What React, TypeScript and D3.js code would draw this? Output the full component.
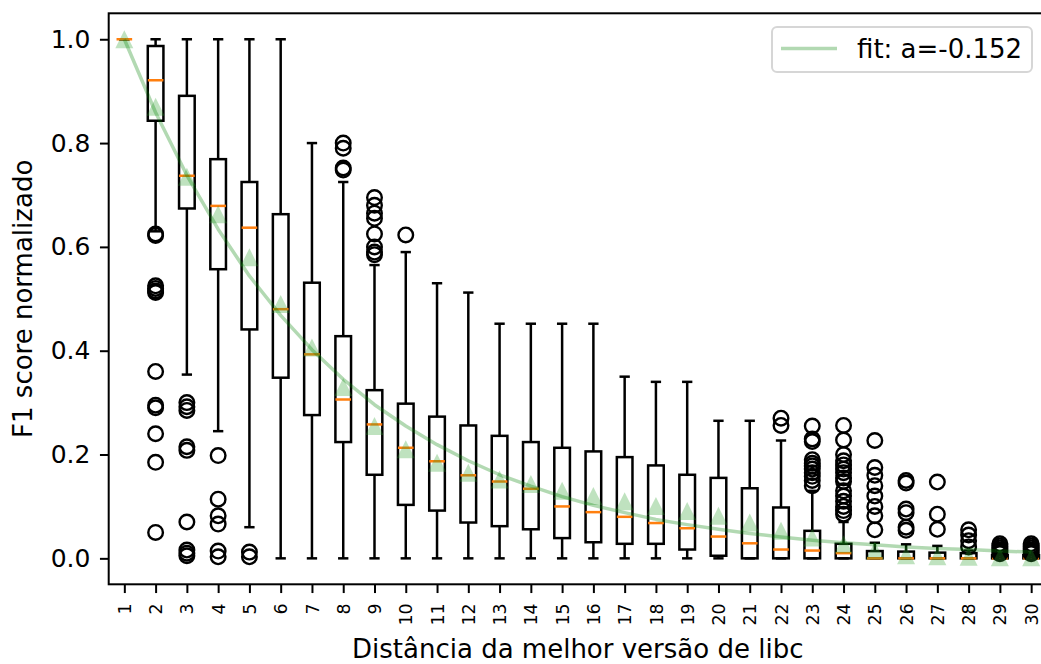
import React, { useRef, useEffect } from 'react';
import * as d3 from 'd3';

// distance to the best libc version (x categories)
const categories = ['1', '2', '3', '4', '5', '6', '7', '8', '9', '10', '11', '12', '13', '14', '15',
  '16', '17', '18', '19', '20', '21', '22', '23', '24', '25', '26', '27', '28', '29', '30'];

// box statistics
const whiskerHigh = [1, 1, 1, 1, 1, 1, 0.80, 0.725, 0.565, 0.59, 0.53, 0.512, 0.452, 0.452, 0.452,
  0.452, 0.35, 0.34, 0.34, 0.265, 0.265, 0.227, 0.13, 0.07, 0.03, 0.027, 0.024, 0.015, 0.01, 0.01];
const q3 = [1, 0.987, 0.891, 0.769, 0.725, 0.663, 0.531, 0.428, 0.324, 0.298, 0.273, 0.256, 0.236, 0.224, 0.213,
  0.206, 0.195, 0.179, 0.161, 0.155, 0.135, 0.098, 0.053, 0.028, 0.014, 0.013, 0.011, 0.01, 0.006, 0.006];
const medians = [1, 0.921, 0.737, 0.679, 0.637, 0.48, 0.393, 0.306, 0.258, 0.213, 0.187, 0.16, 0.148, 0.134, 0.10,
  0.089, 0.08, 0.068, 0.058, 0.042, 0.029, 0.017, 0.015, 0.01, 0, 0, 0, 0, 0, 0];
const q1 = [1, 0.843, 0.674, 0.557, 0.441, 0.348, 0.276, 0.224, 0.161, 0.103, 0.092, 0.069, 0.062, 0.056, 0.039,
  0.031, 0.028, 0.028, 0.017, 0.005, 0, 0, 0, 0, 0, 0, 0, 0, 0, 0];
const whiskerLow = [1, 0.63, 0.354, 0.245, 0.06, 0, 0, 0, 0, 0, 0, 0, 0, 0, 0,
  0, 0, 0, 0, 0, 0, 0, 0, 0, 0, 0, 0, 0, 0, 0];
const means = [1, 0.87, 0.735, 0.663, 0.58, 0.49, 0.406, 0.33, 0.255, 0.21, 0.184, 0.165, 0.152, 0.143, 0.13,
  0.12, 0.11, 0.101, 0.091, 0.082, 0.069, 0.053, 0.04, 0.027, 0.015, 0.006, 0.004, 0.003, 0.002, 0.002];
const fliers: number[][] = [
  [],
  [0.625, 0.622, 0.525, 0.52, 0.515, 0.512, 0.36, 0.295, 0.29, 0.24, 0.185, 0.05],
  [0.30, 0.292, 0.285, 0.215, 0.208, 0.07, 0.016, 0.01, 0.005],
  [0.198, 0.114, 0.082, 0.066, 0.014, 0.003],
  [0.012, 0.003],
  [],
  [],
  [0.80, 0.79, 0.752, 0.748],
  [0.695, 0.68, 0.665, 0.655, 0.625, 0.60, 0.59, 0.585],
  [0.623],
  [], [], [], [], [], [], [], [], [], [], [],
  [0.27, 0.256],
  [0.255, 0.23, 0.225, 0.19, 0.183, 0.178, 0.172, 0.165, 0.158, 0.15, 0.14],
  [0.256, 0.228, 0.20, 0.188, 0.18, 0.172, 0.165, 0.155, 0.148, 0.13, 0.12, 0.11, 0.1, 0.092, 0.085],
  [0.227, 0.175, 0.16, 0.14, 0.12, 0.1, 0.082, 0.055],
  [0.15, 0.145, 0.095, 0.088, 0.06, 0.054],
  [0.147, 0.085, 0.056],
  [0.055, 0.045, 0.034, 0.022],
  [0.028, 0.024, 0.02, 0.016, 0.012, 0.009],
  [0.028, 0.024, 0.02, 0.016, 0.012, 0.009],
];

// fitted curve, a = -0.152 (values at each category)
const fitLabel = 'fit: a=-0.152';
const fitValues = [1, 0.859, 0.738, 0.634, 0.544, 0.468, 0.402, 0.345, 0.296, 0.255, 0.219, 0.188, 0.161, 0.139, 0.119,
  0.102, 0.088, 0.075, 0.065, 0.056, 0.048, 0.041, 0.035, 0.030, 0.026, 0.022, 0.019, 0.017, 0.014, 0.012];

const yTicks = [0, 0.2, 0.4, 0.6, 0.8, 1.0];
const xLabel = 'Distância da melhor versão de libc';
const yLabel = 'F1 score normalizado';

export default function App() {
  const ref = useRef<SVGSVGElement>(null);

  useEffect(() => {
    const width = 1041;
    const height = 664;
    const plot = { left: 108.7, right: 1046.8, top: 13.3, bottom: 584.3 };
    const font = 'DejaVu Sans, sans-serif';

    const x = d3.scaleLinear().domain([0.5, 30.5]).range([plot.left, plot.right]);
    const y = d3.scaleLinear().domain([-0.05, 1.05]).range([plot.bottom, plot.top]);
    const bw = 0.25; // half box width in data units
    const cw = 0.125; // half cap width
    const lw = 2.5;

    const svg = d3.select(ref.current);
    svg.selectAll('*').remove();
    svg.attr('width', width).attr('height', height);

    const rows = categories.map((c, i) => ({
      pos: i + 1, lo: whiskerLow[i], q1: q1[i], med: medians[i], q3: q3[i], hi: whiskerHigh[i],
      mean: means[i], out: fliers[i],
    }));

    const g = svg.append('g');

    // whiskers
    g.append('g').attr('stroke', '#000').attr('stroke-width', lw)
      .selectAll('line.wl').data(rows).enter().append('line')
      .attr('x1', d => x(d.pos)).attr('x2', d => x(d.pos))
      .attr('y1', d => y(d.q1)).attr('y2', d => y(d.lo));
    g.append('g').attr('stroke', '#000').attr('stroke-width', lw)
      .selectAll('line.wh').data(rows).enter().append('line')
      .attr('x1', d => x(d.pos)).attr('x2', d => x(d.pos))
      .attr('y1', d => y(d.q3)).attr('y2', d => y(d.hi));

    // caps
    const caps = g.append('g').attr('stroke', '#000').attr('stroke-width', lw).attr('stroke-linecap', 'square');
    caps.selectAll('line.cl').data(rows).enter().append('line')
      .attr('x1', d => x(d.pos - cw)).attr('x2', d => x(d.pos + cw))
      .attr('y1', d => y(d.lo)).attr('y2', d => y(d.lo));
    caps.selectAll('line.ch').data(rows).enter().append('line')
      .attr('x1', d => x(d.pos - cw)).attr('x2', d => x(d.pos + cw))
      .attr('y1', d => y(d.hi)).attr('y2', d => y(d.hi));

    // boxes
    g.append('g').selectAll('rect').data(rows).enter().append('rect')
      .attr('x', d => x(d.pos - bw)).attr('width', d => x(d.pos + bw) - x(d.pos - bw))
      .attr('y', d => y(d.q3)).attr('height', d => y(d.q1) - y(d.q3))
      .attr('fill', 'none').attr('stroke', '#000').attr('stroke-width', lw);

    // medians
    g.append('g').selectAll('line').data(rows).enter().append('line')
      .attr('x1', d => x(d.pos - bw)).attr('x2', d => x(d.pos + bw))
      .attr('y1', d => y(d.med)).attr('y2', d => y(d.med))
      .attr('stroke', '#ff7f0e').attr('stroke-width', lw);

    // fliers
    const fl = rows.flatMap(d => d.out.map(v => ({ pos: d.pos, v })));
    g.append('g').selectAll('circle').data(fl).enter().append('circle')
      .attr('cx', d => x(d.pos)).attr('cy', d => y(d.v)).attr('r', 7.3)
      .attr('fill', 'none').attr('stroke', '#000').attr('stroke-width', 2.4);

    // means (triangles)
    const s = 9;
    g.append('g').selectAll('path').data(rows).enter().append('path')
      .attr('d', `M0,${-s}L${s},${s}L${-s},${s}Z`)
      .attr('transform', d => `translate(${x(d.pos)},${y(d.mean)})`)
      .attr('fill', '#2ca02c').attr('fill-opacity', 0.3);

    // fit line
    const line = d3.line<number>().x((d, i) => x(i + 1)).y(d => y(d));
    g.append('path').datum(fitValues).attr('d', line)
      .attr('fill', 'none').attr('stroke', 'green').attr('stroke-opacity', 0.3)
      .attr('stroke-width', 3.5).attr('stroke-linejoin', 'round');

    // axes
    const yAxis = svg.append('g').attr('transform', `translate(${plot.left},0)`)
      .call(d3.axisLeft(y).tickValues(yTicks).tickFormat(d3.format('.1f')).tickSize(8.75).tickPadding(9.5));
    yAxis.select('.domain').remove();
    yAxis.selectAll('line').attr('stroke', '#000').attr('stroke-width', 2);
    yAxis.selectAll('text').attr('font-family', font).attr('font-size', 25).attr('fill', '#000');

    const xAxis = svg.append('g').attr('transform', `translate(0,${plot.bottom})`)
      .call(d3.axisBottom(x).tickValues(rows.map(d => d.pos)).tickFormat((d, i) => categories[i]).tickSize(8.75));
    xAxis.select('.domain').remove();
    xAxis.selectAll('line').attr('stroke', '#000').attr('stroke-width', 2);
    xAxis.selectAll('text')
      .attr('font-family', font).attr('font-size', 17.4).attr('fill', '#000')
      .attr('transform', 'rotate(-90)').attr('text-anchor', 'end')
      .attr('x', -19).attr('y', 0).attr('dy', '0.35em');

    // spines
    svg.append('rect')
      .attr('x', plot.left).attr('y', plot.top)
      .attr('width', plot.right - plot.left).attr('height', plot.bottom - plot.top)
      .attr('fill', 'none').attr('stroke', '#000').attr('stroke-width', 2);

    // labels
    svg.append('text').attr('x', (plot.left + plot.right) / 2).attr('y', 658)
      .attr('text-anchor', 'middle').attr('font-family', font).attr('font-size', 26)
      .text(xLabel);
    svg.append('text')
      .attr('transform', `translate(32,${(plot.top + plot.bottom) / 2}) rotate(-90)`)
      .attr('text-anchor', 'middle').attr('font-family', font).attr('font-size', 26)
      .text(yLabel);

    // legend
    const lg = svg.append('g');
    lg.append('rect').attr('x', 772).attr('y', 27).attr('width', 260).attr('height', 45)
      .attr('rx', 5).attr('fill', '#fff').attr('fill-opacity', 0.8)
      .attr('stroke', '#d6d6d6').attr('stroke-width', 2);
    lg.append('line').attr('x1', 781).attr('x2', 837).attr('y1', 48.5).attr('y2', 48.5)
      .attr('stroke', 'green').attr('stroke-opacity', 0.3).attr('stroke-width', 3.5);
    lg.append('text').attr('x', 857).attr('y', 58)
      .attr('font-family', font).attr('font-size', 26).text(fitLabel);
  }, []);

  return (
    <div>
      <svg ref={ref} style={{ position: 'absolute', left: 0, top: 0, background: '#fff' }} />
    </div>
  );
}
